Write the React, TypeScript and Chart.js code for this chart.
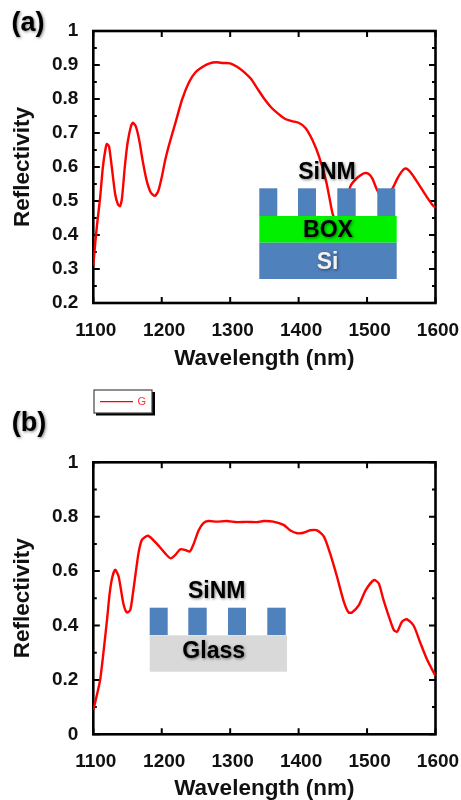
import React, { useEffect, useRef } from "react";
import { Chart, registerables } from "chart.js";

Chart.register(...registerables);

const xTickValues = [1100, 1200, 1300, 1400, 1500, 1600];
const seriesLabel = "G";

const wavelengthA = [1100,1103,1106,1110,1114,1118,1120,1123,1127,1132,1136,1139,1142,1146,1150,1155,1158,1162,1167,1172,1178,1184,1190,1195,1200,1205,1210,1220,1230,1240,1250,1260,1270,1280,1290,1300,1310,1320,1330,1340,1350,1360,1370,1380,1390,1400,1410,1420,1430,1440,1445,1450,1456,1462,1470,1476,1484,1490,1496,1502,1508,1514,1520,1526,1532,1538,1544,1550,1555,1560,1566,1572,1580,1588,1595,1600];
const reflectivityA = [0.31,0.38,0.44,0.51,0.6,0.655,0.668,0.66,0.6,0.52,0.49,0.485,0.51,0.6,0.67,0.72,0.73,0.72,0.68,0.62,0.56,0.525,0.515,0.53,0.57,0.62,0.66,0.73,0.8,0.85,0.88,0.895,0.905,0.908,0.906,0.905,0.895,0.88,0.86,0.83,0.8,0.775,0.757,0.742,0.735,0.73,0.715,0.68,0.63,0.56,0.51,0.46,0.44,0.45,0.5,0.545,0.565,0.575,0.582,0.58,0.565,0.535,0.515,0.51,0.52,0.54,0.565,0.585,0.595,0.592,0.578,0.56,0.535,0.51,0.49,0.48];

const wavelengthB = [1100,1102,1110,1120,1124,1128,1132,1137,1144,1149,1154,1158,1166,1171,1180,1193,1205,1213,1220,1227,1234,1241,1246,1254,1261,1268,1280,1295,1310,1324,1339,1349,1363,1378,1388,1398,1407,1417,1427,1437,1446,1456,1466,1473,1478,1488,1498,1510,1517,1524,1532,1539,1544,1551,1558,1568,1578,1588,1598,1600];
const reflectivityB = [0.09,0.11,0.2,0.42,0.52,0.58,0.605,0.58,0.48,0.448,0.457,0.52,0.665,0.715,0.73,0.7,0.665,0.647,0.66,0.68,0.678,0.672,0.696,0.75,0.776,0.784,0.782,0.784,0.78,0.781,0.78,0.784,0.782,0.77,0.749,0.739,0.741,0.75,0.75,0.727,0.665,0.58,0.488,0.448,0.448,0.475,0.53,0.567,0.555,0.494,0.432,0.384,0.377,0.414,0.423,0.4,0.335,0.273,0.224,0.215];

const yTicksA = [0.2,0.25,0.3,0.35,0.4,0.45,0.5,0.55,0.6,0.65,0.7,0.75,0.8,0.85,0.9,0.95,1];
const yLabelsA = ["0.2","0.3","0.4","0.5","0.6","0.7","0.8","0.9","1"];
const yTicksB = [0,0.1,0.2,0.3,0.4,0.5,0.6,0.7,0.8,0.9,1];
const yLabelsB = ["0","0.2","0.4","0.6","0.8","1"];

const FONT = '"Liberation Sans", Arial, sans-serif';
const BLUE = "#4f81bd";

function rect(c: CanvasRenderingContext2D, color: string, x0: number, y0: number, x1: number, y1: number) {
  c.fillStyle = color;
  c.fillRect(x0, y0, x1 - x0, y1 - y0);
}

function label(c: CanvasRenderingContext2D, text: string, x: number, y: number, color = "#000", size = 23) {
  c.save();
  c.font = `bold ${size}px ${FONT}`;
  c.textAlign = "center";
  c.textBaseline = "middle";
  c.fillStyle = color;
  c.shadowColor = "rgba(0,0,0,0.5)";
  c.shadowBlur = 3;
  c.shadowOffsetX = 1;
  c.shadowOffsetY = 1;
  c.fillText(text, x, y);
  c.restore();
}

const frame = {
  id: "frame",
  beforeDatasetsDraw(chart: any) {
    const c = chart.ctx as CanvasRenderingContext2D;
    const { left, right, top, bottom } = chart.chartArea;
    c.save();
    c.strokeStyle = "#000";
    c.lineWidth = 2;
    c.beginPath();
    chart.scales.x.ticks.forEach((t: any) => {
      const p = chart.scales.x.getPixelForValue(t.value);
      c.moveTo(p, top);
      c.lineTo(p, top + 6);
      c.moveTo(p, bottom);
      c.lineTo(p, bottom - 6);
    });
    chart.scales.y.ticks.forEach((t: any) => {
      const p = chart.scales.y.getPixelForValue(t.value);
      const len = t.label ? 6.5 : 3.5;
      c.moveTo(left, p);
      c.lineTo(left + len, p);
      c.moveTo(right, p);
      c.lineTo(right - len, p);
    });
    c.stroke();
    c.lineWidth = 2.6;
    c.strokeRect(left, top, right - left, bottom - top);
    c.restore();
  },
};

const insetA = {
  id: "insetA",
  afterDatasetsDraw(chart: any) {
    const c = chart.ctx as CanvasRenderingContext2D;
    [[259.3, 277.3], [298, 316], [337.3, 355.7], [377.3, 395.3]].forEach(([a, b]) => rect(c, BLUE, a, 188.3, b, 216));
    rect(c, "#00f000", 259.3, 216, 396.7, 242.7);
    rect(c, BLUE, 259.3, 242.7, 396.7, 279);
    label(c, "SiNM", 327, 173);
    label(c, "BOX", 328, 231);
    label(c, "Si", 327.5, 263, "#f2f2f2");
    label(c, "(a)", 28, 24, "#000", 27);
  },
};

const insetB = {
  id: "insetB",
  afterDatasetsDraw(chart: any) {
    const c = chart.ctx as CanvasRenderingContext2D;
    [[149.7, 167.7], [188.3, 206.7], [228, 246], [267.3, 285.7]].forEach(([a, b]) => rect(c, BLUE, a, 227.7, b, 255));
    rect(c, "#d9d9d9", 149.7, 255.3, 287, 291.7);
    label(c, "SiNM", 216.7, 211.7);
    label(c, "Glass", 213.7, 271.7);
    label(c, "(b)", 29, 44, "#000", 27);

    rect(c, "#000", 96, 12, 155, 35.5);
    c.fillStyle = "#fff";
    c.strokeStyle = "#444";
    c.lineWidth = 1.2;
    c.fillRect(94, 10, 58, 23);
    c.strokeRect(94, 10, 58, 23);
    c.strokeStyle = "#ff0000";
    c.lineWidth = 1.2;
    c.beginPath();
    c.moveTo(100, 21.7);
    c.lineTo(133, 21.7);
    c.stroke();
    c.fillStyle = "#ff3030";
    c.font = `11px ${FONT}`;
    c.textAlign = "center";
    c.textBaseline = "middle";
    c.fillText(chart.data.datasets[0].label, 141.7, 22);
  },
};

function build(
  canvas: HTMLCanvasElement,
  xs: number[],
  ys: number[],
  yTicks: number[],
  yLabels: string[],
  yMin: number,
  top: number,
  axisHeight: number,
  titlePad: number,
  inset: any
) {
  const pairs = xs.map((x, i) => ({ x, y: ys[i] }));
  return new Chart(canvas, {
    type: "line",
    data: {
      datasets: [
        {
          label: seriesLabel,
          data: pairs,
          borderColor: "#ff0000",
          borderWidth: 2.4,
          pointRadius: 0,
          tension: 0.22,
          fill: false,
        },
      ],
    },
    options: {
      animation: false,
      responsive: false,
      layout: { padding: { top, right: 25.5, left: 0, bottom: 0 } },
      plugins: { legend: { display: false }, tooltip: { enabled: false } },
      scales: {
        x: {
          type: "linear",
          min: 1100,
          max: 1600,
          grid: { display: false },
          border: { display: false },
          afterBuildTicks: (s: any) => {
            s.ticks = xTickValues.map((value) => ({ value }));
          },
          afterFit: (s: any) => {
            s.height = axisHeight;
            s.paddingLeft = 0;
            s.paddingRight = 0;
          },
          ticks: {
            color: "#111",
            maxRotation: 0,
            autoSkip: false,
            padding: 8,
            labelOffset: 2.5,
            font: { family: FONT, size: 19, weight: "bold" },
            callback: (v: any) => String(v),
          },
          title: {
            display: true,
            text: "Wavelength (nm)",
            color: "#111",
            padding: { top: 0, bottom: titlePad },
            font: { family: FONT, size: 22.5, weight: "bold" },
          },
        },
        y: {
          type: "linear",
          min: yMin,
          max: 1,
          grid: { display: false },
          border: { display: false },
          afterBuildTicks: (s: any) => {
            s.ticks = yTicks.map((value) => ({ value }));
          },
          afterFit: (s: any) => {
            s.width = 93.3;
            s.paddingTop = 0;
            s.paddingBottom = 0;
          },
          ticks: {
            color: "#111",
            autoSkip: false,
            padding: 7,
            font: { family: FONT, size: 19, weight: "bold" },
            callback: (v: any) => {
              const t = String(+Number(v).toFixed(2));
              return yLabels.includes(t) ? t : "";
            },
          },
          title: {
            display: true,
            text: "Reflectivity",
            color: "#111",
            padding: { top: 9, bottom: 0 },
            font: { family: FONT, size: 22.5, weight: "bold" },
          },
        },
      },
    },
    plugins: [frame, inset],
  } as any);
}

export default function App() {
  const a = useRef<HTMLCanvasElement>(null);
  const b = useRef<HTMLCanvasElement>(null);
  useEffect(() => {
    const ca = build(a.current!, wavelengthA, reflectivityA, yTicksA, yLabelsA, 0.2, 31, 77, 8, insetA);
    const cb = build(b.current!, wavelengthB, reflectivityB, yTicksB, yLabelsB, 0, 82.3, 65.7, -2, insetB);
    return () => {
      ca.destroy();
      cb.destroy();
    };
  }, []);
  return (
    <div style={{ position: "absolute", left: 0, top: 0, width: 461, height: 800, background: "#fff" }}>
      <canvas ref={a} width={461} height={380} style={{ position: "absolute", left: 0, top: 0, display: "block" }} />
      <canvas ref={b} width={461} height={420} style={{ position: "absolute", left: 0, top: 380, display: "block" }} />
    </div>
  );
}
